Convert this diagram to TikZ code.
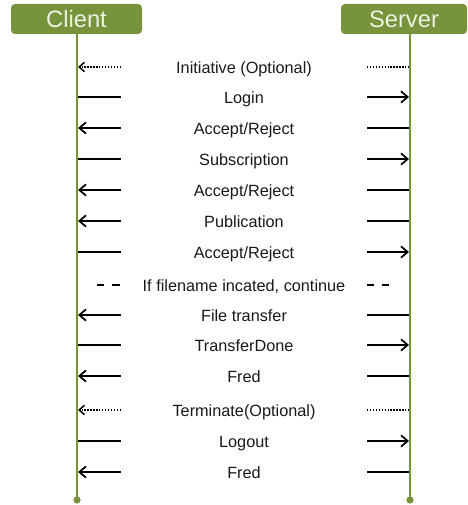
\documentclass[tikz,border=0pt]{standalone}
\usepackage{fontspec}
\setmainfont{Liberation Sans}
\usetikzlibrary{arrows.meta}
\definecolor{lifegreen}{RGB}{119,147,60}
\definecolor{headtext}{RGB}{236,242,224}
\definecolor{msgtext}{RGB}{25,25,25}

\begin{document}
\begin{tikzpicture}[x=0.75pt,y=-0.75pt,
  header/.style={fill=lifegreen,rounded corners=3pt,text=headtext,inner sep=0pt,minimum height=22.5pt,font=\fontsize{17.8}{18}\selectfont},
  lifeline/.style={draw=lifegreen,line width=1.6pt},
  msg/.style={anchor=base,inner sep=0pt,text=msgtext,font=\fontsize{12.2}{13}\selectfont},
  solidmsg/.style={line width=1.5pt},
  optmsg/.style={line width=1.1pt,dash pattern=on 1pt off 1.2pt},
  condmsg/.style={line width=1.5pt,dash pattern=on 5.5pt off 6pt},
  tip/.style={-{Straight Barb[length=5pt,width=8.5pt,line width=1.3pt]}}]
\useasboundingbox (0,0) rectangle (467,505);

% participants
\node[header,minimum width=98.25pt] (client) at (76.5,19) {Client};
\node[header,minimum width=94.5pt] (server) at (404,19) {Server};
\coordinate (cend) at (77,500);
\coordinate (send) at (410,500);
\draw[lifeline] (client.south -| cend) -- (cend);
\draw[lifeline] (server.south -| send) -- (send);
\fill[lifegreen] (cend) circle (2.7pt);
\fill[lifegreen] (send) circle (2.7pt);

% one row per message: label, lifeline ends and segment ends
\foreach \n/\y/\txt in {1/67/Initiative (Optional),2/97/Login,3/128/{Accept/Reject},
    4/159/Subscription,5/190/{Accept/Reject},6/221/Publication,7/252/{Accept/Reject},
    8/285/{If filename incated, continue},9/315/File transfer,10/345/TransferDone,
    11/376/Fred,12/410/Terminate(Optional),13/441/Logout,14/472/Fred}{
  \node[msg] (m\n) at (244,\y+6.3) {\txt};
  \coordinate (c\n) at (78,\y);
  \coordinate (l\n) at (121,\y);
  \coordinate (r\n) at (367,\y);
  \coordinate (s\n) at (409,\y);
}

% server to client
\foreach \n in {3,5,6,9,11,14}{
  \draw[solidmsg,tip] (l\n) -- (c\n);
  \draw[solidmsg] (r\n) -- (s\n);
}
% client to server
\foreach \n in {2,4,7,10,13}{
  \draw[solidmsg] (c\n) -- (l\n);
  \draw[solidmsg,tip] (r\n) -- (s\n);
}
% optional ones, dotted
\foreach \n in {1,12}{
  \draw[optmsg,-{Straight Barb[length=4pt,width=7pt,line width=1.1pt]}] (l\n) -- (c\n);
  \draw[optmsg] (r\n) -- (s\n);
}
% condition
\coordinate (cd8) at (97,285);
\coordinate (sd8) at (389,285);
\draw[condmsg] (cd8) -- (l8);
\draw[condmsg] (r8) -- (sd8);
\end{tikzpicture}
\end{document}
